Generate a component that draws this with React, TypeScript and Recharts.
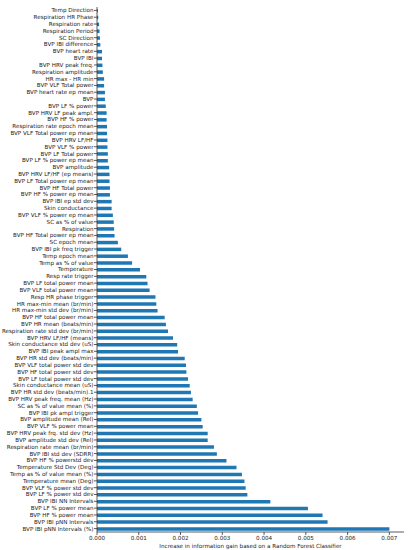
import { Bar, BarChart, XAxis, YAxis } from "recharts";

const features = [
  "Temp Direction",
  "Respiration HR Phase",
  "Respiration rate",
  "Respiration Period",
  "SC Direction",
  "BVP IBI difference",
  "BVP heart rate",
  "BVP IBI",
  "BVP HRV peak freq.",
  "Respiration amplitude",
  "HR max - HR min",
  "BVP VLF Total power",
  "BVP heart rate ep mean",
  "BVP",
  "BVP LF % power",
  "BVP HRV LF peak ampl.",
  "BVP HF % power",
  "Respiration rate epoch mean",
  "BVP VLF Total power ep mean",
  "BVP HRV LF/HF",
  "BVP VLF % power",
  "BVP LF Total power",
  "BVP LF % power ep mean",
  "BVP amplitude",
  "BVP HRV LF/HF (ep means)",
  "BVP LF Total power ep mean",
  "BVP HF Total power",
  "BVP HF % power ep mean",
  "BVP IBI ep std dev",
  "Skin conductance",
  "BVP VLF % power ep mean",
  "SC as % of value",
  "Respiration",
  "BVP HF Total power ep mean",
  "SC epoch mean",
  "BVP IBI pk freq trigger",
  "Temp epoch mean",
  "Temp as % of value",
  "Temperature",
  "Resp rate trigger",
  "BVP LF total power mean",
  "BVP VLF total power mean",
  "Resp HR phase trigger",
  "HR max-min mean (br/min)",
  "HR max-min std dev (br/min)",
  "BVP HF total power mean",
  "BVP HR mean (beats/min)",
  "Respiration rate std dev (br/min)",
  "BVP HRV LF/HF (means)",
  "Skin conductance std dev (uS)",
  "BVP IBI peak ampl max",
  "BVP HR std dev (beats/min)",
  "BVP VLF total power std dev",
  "BVP HF total power std dev",
  "BVP LF total power std dev",
  "Skin conductance mean (uS)",
  "BVP HR std dev (beats/min).1",
  "BVP HRV peak freq. mean (Hz)",
  "SC as % of value mean (%)",
  "BVP IBI pk ampl trigger",
  "BVP amplitude mean (Rel)",
  "BVP VLF % power mean",
  "BVP HRV peak frq. std dev (Hz)",
  "BVP amplitude std dev (Rel)",
  "Respiration rate mean (br/min)",
  "BVP IBI std dev (SDRR)",
  "BVP HF % powerstd dev",
  "Temperature Std Dev (Deg)",
  "Temp as % of value mean (%)",
  "Temperature mean (Deg)",
  "BVP VLF % power std dev",
  "BVP LF % power std dev",
  "BVP IBI NN Intervals",
  "BVP LF % power mean",
  "BVP HF % power mean",
  "BVP IBI pNN Intervals",
  "BVP IBI pNN Intervals (%)",
];

const gains = [
  0.00002, 0.00003, 0.00005, 0.00006, 0.00007, 0.00008, 0.00012, 0.00012,
  0.00013, 0.00014, 0.00017, 0.00017, 0.00019, 0.00019, 0.00021, 0.00023,
  0.00023, 0.00024, 0.00024, 0.00025, 0.00025, 0.00026, 0.00026, 0.00029,
  0.0003, 0.0003, 0.00031, 0.00031, 0.00035, 0.00035, 0.00038, 0.0004,
  0.00041, 0.00042, 0.0005, 0.00058, 0.00074, 0.00084, 0.00103, 0.00118,
  0.00121, 0.00126, 0.0014, 0.00142, 0.00145, 0.00162, 0.00165, 0.0017,
  0.00182, 0.00192, 0.00194, 0.0021, 0.00213, 0.00214, 0.00218, 0.00222,
  0.00225, 0.00229, 0.00239, 0.00242, 0.0025, 0.00253, 0.00265, 0.00265,
  0.0028, 0.00287, 0.0031, 0.00334, 0.00347, 0.00353, 0.00356, 0.0036,
  0.00415, 0.00505, 0.0054, 0.00552, 0.007,
];

const xTicks = [0, 0.001, 0.002, 0.003, 0.004, 0.005, 0.006, 0.007];

const data = features.map((name, i) => ({ name, gain: gains[i] }));

const font = "'DejaVu Sans', sans-serif";
const axisColor = "#333";
const textColor = "#222";

// plain <text> so long feature names never wrap
function FeatureTick(props: any) {
  const { x, y, payload } = props;
  return (
    <text
      x={x}
      y={y}
      dy="0.35em"
      textAnchor="end"
      fontSize={5.6}
      fontFamily={font}
      fill={textColor}
    >
      {payload.value}
    </text>
  );
}

export default function App() {
  return (
    <div style={{ position: "absolute", left: 0, top: 0, fontFamily: font }}>
      <BarChart
        width={412}
        height={550}
        data={data}
        layout="vertical"
        barSize={3.5}
        margin={{ top: 7, right: 8, left: 0, bottom: 0 }}
      >
        <XAxis
          type="number"
          dataKey="gain"
          domain={[0, 0.00735]}
          ticks={xTicks}
          allowDataOverflow
          tickFormatter={(v: number) => v.toFixed(3)}
          tick={{ fontSize: 5.6, fill: textColor, fontFamily: font }}
          tickSize={3}
          tickMargin={1}
          stroke={axisColor}
          strokeWidth={0.8}
          height={18}
          label={{
            value: "Increase in information gain based on a Random Forest Classifier",
            position: "insideBottom",
            offset: 2,
            fontSize: 5.6,
            fill: textColor,
            fontFamily: font,
          }}
        />
        <XAxis
          xAxisId="top"
          type="number"
          orientation="top"
          domain={[0, 0.00735]}
          tick={false}
          tickLine={false}
          height={0}
          stroke={axisColor}
          strokeWidth={0.8}
        />
        <YAxis
          type="category"
          dataKey="name"
          interval={0}
          width={97}
          tick={<FeatureTick />}
          tickSize={3}
          tickMargin={0.5}
          stroke={axisColor}
          strokeWidth={0.8}
        />
        <YAxis
          yAxisId="right"
          type="category"
          dataKey="name"
          orientation="right"
          tick={false}
          tickLine={false}
          width={0}
          stroke={axisColor}
          strokeWidth={0.8}
        />
        <Bar dataKey="gain" fill="#1f77b4" isAnimationActive={false} />
      </BarChart>
    </div>
  );
}
